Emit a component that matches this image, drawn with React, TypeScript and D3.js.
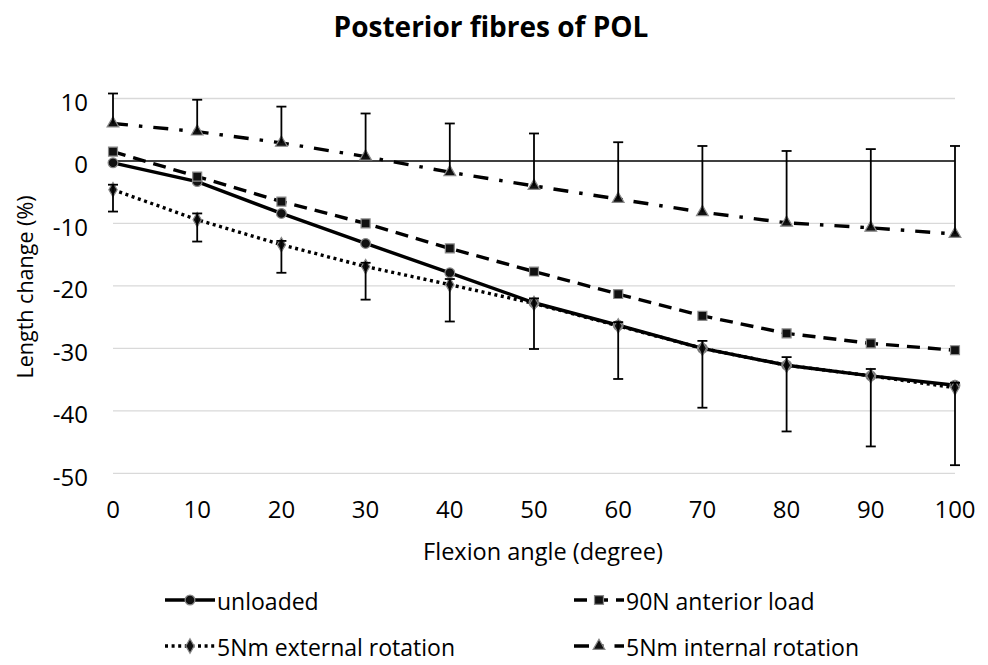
import React from "react";
import * as d3 from "d3";

const width = 988;
const height = 665;
const margin = { top: 98.5, right: 33, bottom: 191.7, left: 113 };

// flexion angles (degree)
const angles = [0, 10, 20, 30, 40, 50, 60, 70, 80, 90, 100];

// length change (%) per loading condition
const unloaded = [-0.3, -3.3, -8.4, -13.2, -17.9, -22.7, -26.3, -30.0, -32.7, -34.4, -35.9];
const anteriorLoad = [1.5, -2.5, -6.5, -10.0, -14.0, -17.7, -21.3, -24.8, -27.6, -29.2, -30.3];
const externalRot = [-4.6, -9.4, -13.4, -16.9, -19.8, -22.8, -26.4, -30.0, -32.7, -34.4, -36.3];
const internalRot = [6.0, 4.7, 2.9, 0.7, -1.8, -4.0, -6.1, -8.2, -9.9, -10.7, -11.7];

// error bar ends
const externalHigh = [-3.8, -8.4, -12.8, -16.3, -18.9, -22.0, -25.8, -28.8, -31.4, -33.3, -35.5];
const externalLow = [-8.1, -12.9, -17.9, -22.2, -25.7, -30.1, -34.9, -39.5, -43.3, -45.7, -48.7];
const internalHigh = [10.8, 9.8, 8.7, 7.6, 6.0, 4.4, 3.0, 2.4, 1.6, 1.9, 2.4];

const yTicks = [10, 0, -10, -20, -30, -40, -50];
const xTicks = angles;

const seriesNames = [
  "unloaded",
  "90N anterior load",
  "5Nm external rotation",
  "5Nm internal rotation"
];

const FONT = "'Open Sans', sans-serif";

const series = [
  { name: seriesNames[0], values: unloaded, dash: "none", symbol: d3.symbolCircle, size: 75 },
  { name: seriesNames[1], values: anteriorLoad, dash: "13 8", symbol: d3.symbolSquare, size: 80 },
  { name: seriesNames[2], values: externalRot, dash: "3 3.6", symbol: d3.symbolDiamond, size: 60 },
  { name: seriesNames[3], values: internalRot, dash: "15 11 3.5 11", symbol: d3.symbolTriangle, size: 60 }
];

function Marker(props) {
  const path = d3.symbol().type(props.symbol).size(props.size)();
  return (
    <path
      d={path}
      transform={`translate(${props.x},${props.y})`}
      fill="#111"
      stroke="#8a8a8a"
      strokeWidth={1.2}
    />
  );
}

function ErrorBar(props) {
  const { x, y1, y2 } = props;
  return (
    <g stroke="#000" strokeWidth={1.8}>
      <line x1={x} x2={x} y1={y1} y2={y2} />
      <line x1={x - 5} x2={x + 5} y1={y2} y2={y2} />
    </g>
  );
}

export default function App() {
  const xScale = d3
    .scaleLinear()
    .domain([0, 100])
    .range([margin.left, width - margin.right]);
  const yScale = d3
    .scaleLinear()
    .domain([-50, 10])
    .range([height - margin.bottom, margin.top]);

  const line = d3
    .line()
    .x((d, i) => xScale(angles[i]))
    .y(d => yScale(d));

  const legendPos = [
    { x: 165, y: 600 },
    { x: 574, y: 600 },
    { x: 165, y: 646 },
    { x: 574, y: 646 }
  ];

  return (
    <svg
      width={width}
      height={height}
      style={{ position: "absolute", left: 0, top: 0, background: "#fff" }}
      fontFamily={FONT}
    >
      <text x={491} y={37} textAnchor="middle" fontSize={28} fontWeight="bold" fill="#000">
        Posterior fibres of POL
      </text>

      {/* gridlines */}
      {yTicks.map(t => (
        <line
          key={"g" + t}
          x1={xScale(0)}
          x2={xScale(100)}
          y1={yScale(t)}
          y2={yScale(t)}
          stroke={t === 0 ? "#000" : "#d9d9d9"}
          strokeWidth={t === 0 ? 1.6 : 1.3}
        />
      ))}

      {/* y tick labels */}
      {yTicks.map(t => (
        <text key={"yt" + t} x={88} y={yScale(t) + 12.5} textAnchor="end" fontSize={24} fill="#000">
          {t}
        </text>
      ))}

      {/* x tick labels */}
      {xTicks.map(t => (
        <text key={"xt" + t} x={xScale(t)} y={518} textAnchor="middle" fontSize={24} fill="#000">
          {t}
        </text>
      ))}

      <text x={543} y={560} textAnchor="middle" fontSize={23.5} fill="#000">
        Flexion angle (degree)
      </text>
      <text
        transform={`translate(33,287) rotate(-90)`}
        textAnchor="middle"
        fontSize={21.5}
        fill="#000"
      >
        Length change (%)
      </text>

      {/* lines */}
      {series.map(s => (
        <path
          key={s.name}
          d={line(s.values)}
          fill="none"
          stroke="#000"
          strokeWidth={3.4}
          strokeDasharray={s.dash}
        />
      ))}

      {/* markers */}
      {series.map(s =>
        s.values.map((v, i) => (
          <Marker key={s.name + i} x={xScale(angles[i])} y={yScale(v)} symbol={s.symbol} size={s.size} />
        ))
      )}

      {/* error bars */}
      {angles.map((a, i) => (
        <g key={"e" + a}>
          <ErrorBar x={xScale(a)} y1={yScale(externalRot[i])} y2={yScale(externalHigh[i])} />
          <ErrorBar x={xScale(a)} y1={yScale(externalRot[i])} y2={yScale(externalLow[i])} />
          <ErrorBar x={xScale(a)} y1={yScale(internalRot[i])} y2={yScale(internalHigh[i])} />
        </g>
      ))}

      {/* legend */}
      {series.map((s, i) => {
        const p = legendPos[i];
        return (
          <g key={"l" + s.name}>
            <line
              x1={p.x}
              x2={p.x + 50}
              y1={p.y}
              y2={p.y}
              stroke="#000"
              strokeWidth={3.4}
              strokeDasharray={s.dash}
            />
            <Marker x={p.x + 25} y={p.y} symbol={s.symbol} size={s.size} />
            <text x={p.x + 52} y={p.y + 10} fontSize={23} fill="#000">
              {s.name}
            </text>
          </g>
        );
      })}
    </svg>
  );
}
